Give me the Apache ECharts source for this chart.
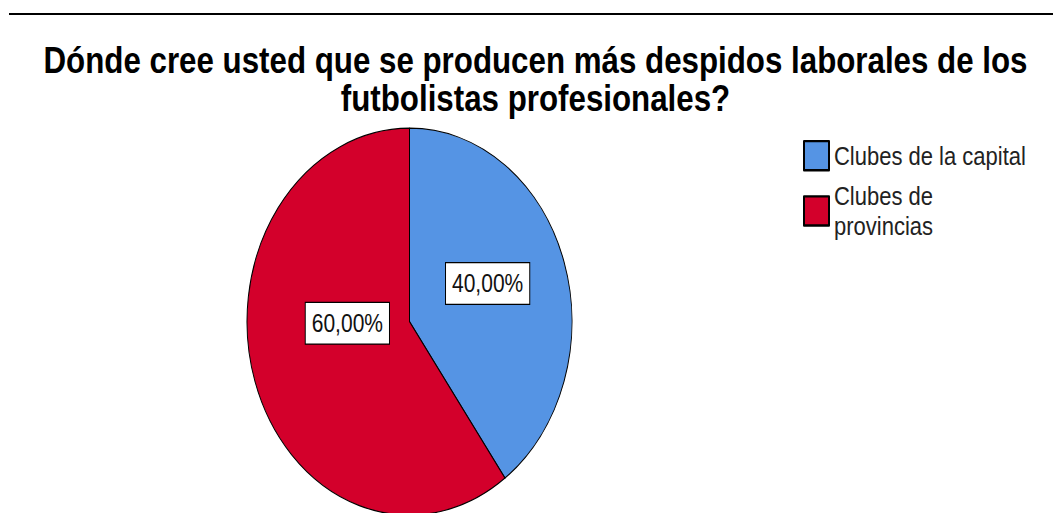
<!DOCTYPE html>
<html>
<head>
<meta charset="utf-8">
<script src="https://cdn.jsdelivr.net/npm/echarts/dist/echarts.min.js"></script>
<style>
html,body{margin:0;padding:0;background:#fff;overflow:hidden}
#wrap{width:1053px;height:513px;overflow:hidden;position:relative;background:#fff}
#chart{width:1053px;height:431px;transform:scaleY(1.1903);transform-origin:0 0}
</style>
</head>
<body>
<div id="wrap"><div id="chart"></div></div>
<script>
const titleText = 'Dónde cree usted que se producen más despidos laborales de los\nfutbolistas profesionales?';
const categories = ['Clubes de la capital', 'Clubes de provincias'];
const legendLabels = ['Clubes de la capital', 'Clubes de\nprovincias'];
const values = [40, 60];
const colors = ['#5594e4', '#d3002b'];

const total = values.reduce((a, b) => a + b, 0);
const labelOffsets = [[-2, -6], [18, -24.7]];

const chart = echarts.init(document.getElementById('chart'), null, {renderer: 'svg'});
chart.setOption({
  animation: false,
  backgroundColor: '#fff',
  graphic: [{
    type: 'line',
    shape: {x1: 9, y1: 11.8, x2: 1053, y2: 11.8},
    style: {stroke: '#000', lineWidth: 1.6}
  }],
  title: {
    text: titleText,
    left: 535.5,
    top: 35,
    textAlign: 'center',
    padding: 0,
    textStyle: {fontFamily: 'Liberation Sans, Arial, sans-serif', fontSize: 31.3, fontWeight: 'bold', color: '#000', lineHeight: 31.3}
  },
  legend: {
    orient: 'vertical',
    left: 798,
    top: 112.6,
    itemWidth: 25,
    itemHeight: 24.4,
    itemGap: 8.6,
    icon: 'rect',
    selectedMode: false,
    data: categories,
    formatter: name => legendLabels[categories.indexOf(name)],
    textStyle: {fontFamily: 'Liberation Sans, Arial, sans-serif', fontSize: 22, lineHeight: 24.6, color: '#222'}
  },
  series: [{
    type: 'pie',
    center: [409.5, 270.2],
    radius: 162.5,
    startAngle: 90,
    clockwise: true,
    silent: true,
    itemStyle: {borderColor: '#000', borderWidth: 1},
    labelLine: {show: false},
    label: {
      show: true,
      position: 'inside',
      formatter: p => (p.value / total * 100).toFixed(2).replace('.', ',') + '%',
      fontFamily: 'Liberation Sans, Arial, sans-serif',
      fontSize: 21,
      lineHeight: 22,
      color: '#111',
      backgroundColor: '#fff',
      borderColor: '#000',
      borderWidth: 1,
      padding: [6, 6]
    },
    labelLayout: p => ({dx: labelOffsets[p.dataIndex][0], dy: labelOffsets[p.dataIndex][1]}),
    data: categories.map((c, i) => ({name: c, value: values[i], itemStyle: {color: colors[i]}}))
  }]
});
</script>
</body>
</html>
